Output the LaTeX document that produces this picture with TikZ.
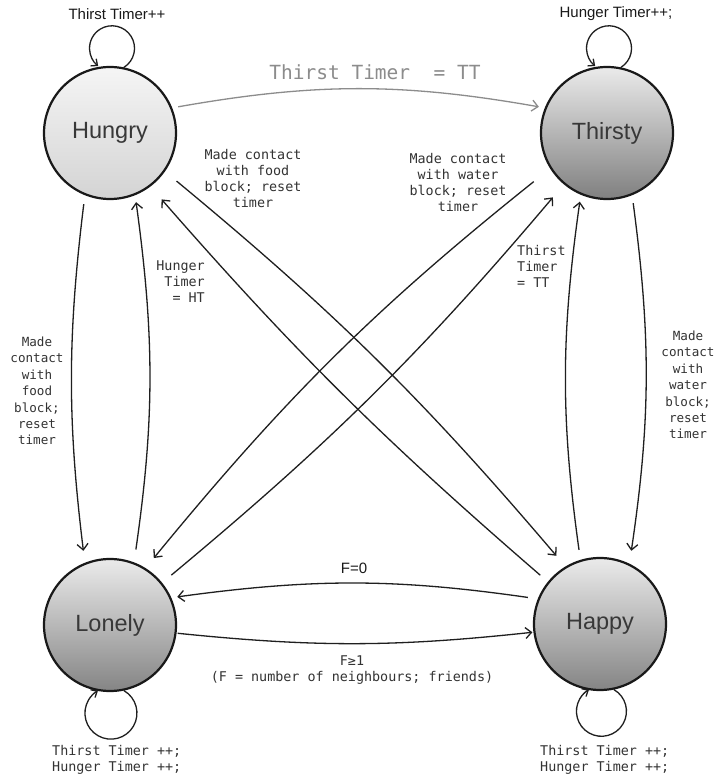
\documentclass[tikz,border=0pt]{standalone}
\usepackage{fontspec}
\setmainfont{Liberation Sans}
\newfontfamily\monof{DejaVu Sans Mono}
\usetikzlibrary{arrows.meta}
\begin{document}
\begin{tikzpicture}[x=1pt,y=1pt,
  state/.style={circle, draw=black!90, line width=2.2pt, minimum size=132pt, inner sep=0pt,
                font=\fontsize{23.5}{28}\selectfont, text=black!78},
  conn/.style={line width=1.3pt, draw=black!88, -{Straight Barb[length=6pt,width=11pt]}},
  loopy/.style={line width=1.3pt, draw=black!88, -{Straight Barb[length=5pt,width=9pt]}},
  mono/.style={font=\monof\fontsize{13.4}{16}\selectfont, text=black!80, align=center, inner sep=0pt},
  side/.style={font=\monof\fontsize{12.6}{16.4}\selectfont, text=black!80, align=center, inner sep=0pt},
  sanslbl/.style={font=\fontsize{15}{18}\selectfont, text=black!90, inner sep=0pt},
]
\useasboundingbox (0,0) rectangle (717,779);
\fill[white] (0,0) rectangle (717,779);

% states
\node[state, top color=black!4, bottom color=black!17] (H) at (110,646) {Hungry};
\node[state, top color=black!8, bottom color=black!50] (T) at (607,646) {Thirsty};
\node[state, top color=black!8, bottom color=black!48] (L) at (110,154) {Lonely};
\node[state, top color=black!8, bottom color=black!48] (P) at (600,155) {Happy};

% self loops
\draw[loopy] (H.78) arc[start angle=-58, end angle=232, radius=22.5];
\draw[loopy] (T.78) arc[start angle=-58, end angle=232, radius=22.5];
\draw[loopy] (L.-78) arc[start angle=60, end angle=-240, radius=26];
\draw[loopy] (P.-78) arc[start angle=60, end angle=-240, radius=25];

% top
\draw[conn, draw=black!45, bend left=10, shorten <=6pt, shorten >=6pt] (H.22) to (T.158);
% left verticals
\draw[conn, bend right=7, shorten <=9pt, shorten >=12pt] (H.-112) to (L.112);
\draw[conn, bend right=8, shorten <=13pt, shorten >=7pt] (L.69) to (H.-68);
% right verticals
\draw[conn, bend left=8, shorten <=8pt, shorten >=13pt] (T.-68) to (P.64);
\draw[conn, bend left=8, shorten <=10pt, shorten >=7pt] (P.107) to (T.-113);
% diagonals
\draw[conn, bend left=5, shorten <=15pt, shorten >=14pt] (H.-35) to (P.121);
\draw[conn, bend left=4, shorten <=10pt, shorten >=17pt] (P.141) to (H.-53);
\draw[conn, bend right=6, shorten <=21pt, shorten >=13pt] (T.-148) to (L.58);
\draw[conn, bend right=5, shorten <=12pt, shorten >=17pt] (L.39) to (T.-130);
% bottom
\draw[conn, bend right=8, shorten <=10pt, shorten >=6pt] (P.158) to (L.24);
\draw[conn, bend right=6, shorten <=1pt, shorten >=1pt] (L.-7) to (P.-173);

% labels
\node[sanslbl] (lh) at (117,765) {Thirst Timer++};
\node[sanslbl] (lt) at (616,765) {Hunger Timer++;};
\node[font=\monof\fontsize{19.5}{22}\selectfont, text=black!45, inner sep=0pt] (ltop) at (375,707) {Thirst Timer\ \ = TT};
\node[mono] (lfood) at (253,600) {Made contact\\with food\\block; reset\\timer};
\node[mono] (lwater) at (458,596) {Made contact\\with water\\block; reset\\timer};
\node[mono, align=right, anchor=east] (lht) at (205,497) {Hunger\\Timer\\= HT};
\node[mono, align=left, anchor=west] (ltt) at (517,513) {Thirst\\Timer\\= TT};
\node[side] (lleft) at (37,388) {Made\\contact\\with\\food\\block;\\reset\\timer};
\node[side] (lright) at (688,394) {Made\\contact\\with\\water\\block;\\reset\\timer};
\node[sanslbl] (lf0) at (354,211) {F=0};
\node[mono] (lf1) at (352,109) {F≥1\\(F = number of neighbours; friends)};
\node[mono, align=left, anchor=west] (lbl) at (52,19) {Thirst Timer ++;\\Hunger Timer ++;};
\node[mono, align=left, anchor=west] (lbp) at (540,19) {Thirst Timer ++;\\Hunger Timer ++;};
\end{tikzpicture}
\end{document}
